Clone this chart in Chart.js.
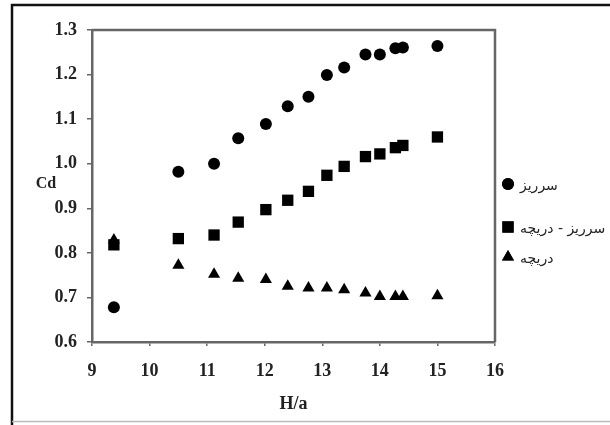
<!DOCTYPE html>
<html>
<head>
<meta charset="utf-8">
<script src="https://cdn.jsdelivr.net/npm/chart.js@4/dist/chart.umd.min.js"></script>
<style>
  html, body { margin: 0; padding: 0; background: #fff; }
  #wrap { width: 610px; height: 425px; }
</style>
</head>
<body>
<div id="wrap"><canvas id="cdChart" width="610" height="425"></canvas></div>
<script>
// H/a values shared by the three series
const ha = [9.38, 10.5, 11.12, 11.54, 12.02, 12.4, 12.76, 13.08, 13.38, 13.75, 14.0, 14.27, 14.4, 15.0];

const weirCd     = [0.678, 0.982, 1.0, 1.057, 1.089, 1.129, 1.15, 1.199, 1.216, 1.245, 1.245, 1.259, 1.261, 1.264];
const weirGateCd = [0.818, 0.832, 0.84, 0.869, 0.897, 0.918, 0.938, 0.974, 0.994, 1.016, 1.022, 1.036, 1.041, 1.06];
const gateCd     = [0.829, 0.772, 0.752, 0.743, 0.74, 0.725, 0.721, 0.721, 0.717, 0.71, 0.702, 0.702, 0.702, 0.704];

const seriesNames = ['سرریز', 'سرریز - دریچه', 'دریچه'];

const xTicks = [9, 10, 11, 12, 13, 14, 15, 16];
const yTicks = [0.6, 0.7, 0.8, 0.9, 1.0, 1.1, 1.2, 1.3];

const axisColor = '#666';
const tickFont = { family: 'Liberation Serif', size: 18, weight: 'bold' };

function pts(ys) {
  return ys.map((y, i) => ({ x: ha[i], y: y }));
}

// outer frame, plot box, axis titles and the legend
const decor = {
  id: 'decor',
  beforeDraw(chart) {
    const ctx = chart.ctx;
    ctx.save();
    ctx.fillStyle = '#fff';
    ctx.fillRect(0, 0, chart.width, chart.height);
    ctx.strokeStyle = '#111';
    ctx.lineWidth = 2.5;
    ctx.beginPath();
    ctx.moveTo(12, 425);
    ctx.lineTo(12, 5);
    ctx.lineTo(610, 5);
    ctx.stroke();
    ctx.strokeStyle = '#bbb';
    ctx.lineWidth = 1.5;
    ctx.beginPath();
    ctx.moveTo(12, 421.5);
    ctx.lineTo(610, 421.5);
    ctx.stroke();
    ctx.restore();
  },
  afterDraw(chart) {
    const ctx = chart.ctx;
    const a = chart.chartArea;
    ctx.save();
    ctx.strokeStyle = axisColor;
    ctx.lineWidth = 2.5;
    ctx.beginPath();
    ctx.moveTo(a.left, a.top);
    ctx.lineTo(a.right, a.top);
    ctx.lineTo(a.right, a.bottom);
    ctx.stroke();

    ctx.fillStyle = '#222';
    ctx.font = 'bold 16px "Liberation Serif"';
    ctx.textAlign = 'center';
    ctx.textBaseline = 'middle';
    ctx.fillText('Cd', 46, 184);
    ctx.font = 'bold 18px "Liberation Serif"';
    ctx.fillText('H/a', (a.left + a.right) / 2, 404);

    // legend
    const rows = [184, 227, 257];
    ctx.font = '14px "DejaVu Sans"';
    ctx.textAlign = 'left';
    chart.data.datasets.forEach((ds, i) => {
      Chart.helpers.drawPoint(ctx, {
        pointStyle: ds.pointStyle,
        radius: ds.pointRadius,
        borderWidth: 0
      }, 508, rows[i]);
      ctx.fillStyle = '#000';
      ctx.fill();
      ctx.fillStyle = '#222';
      ctx.fillText(ds.label, 520, rows[i] + 2);
    });
    ctx.restore();
  }
};

new Chart(document.getElementById('cdChart'), {
  type: 'scatter',
  data: {
    datasets: [
      { label: seriesNames[0], data: pts(weirCd),     pointStyle: 'circle',   pointRadius: 6 },
      { label: seriesNames[1], data: pts(weirGateCd), pointStyle: 'rect',     pointRadius: 8 },
      { label: seriesNames[2], data: pts(gateCd),     pointStyle: 'triangle', pointRadius: 7 }
    ].map(ds => Object.assign(ds, {
      backgroundColor: '#000',
      borderColor: '#000',
      borderWidth: 0,
      pointHoverRadius: ds.pointRadius
    }))
  },
  options: {
    responsive: false,
    animation: false,
    layout: { padding: { left: 0, top: 30, right: 115, bottom: 0 } },
    plugins: {
      legend: { display: false },
      tooltip: { enabled: false }
    },
    scales: {
      x: {
        type: 'linear',
        min: 9,
        max: 16,
        afterFit: (s) => { s.height = 83; },
        afterBuildTicks: (s) => { s.ticks = xTicks.map(v => ({ value: v })); },
        border: { color: axisColor, width: 2.5 },
        grid: { drawOnChartArea: false, color: axisColor, tickLength: 4, lineWidth: 1.5 },
        ticks: { color: '#222', font: tickFont, padding: 15, maxRotation: 0 }
      },
      y: {
        type: 'linear',
        min: 0.6,
        max: 1.3,
        afterFit: (s) => { s.width = 92; },
        afterBuildTicks: (s) => { s.ticks = yTicks.map(v => ({ value: v })); },
        border: { color: axisColor, width: 2.5 },
        grid: { drawOnChartArea: false, color: axisColor, tickLength: 5, lineWidth: 1.5 },
        ticks: { color: '#222', font: tickFont, padding: 10, callback: (v) => Number(v).toFixed(1) }
      }
    }
  },
  plugins: [decor]
});
</script>
</body>
</html>
